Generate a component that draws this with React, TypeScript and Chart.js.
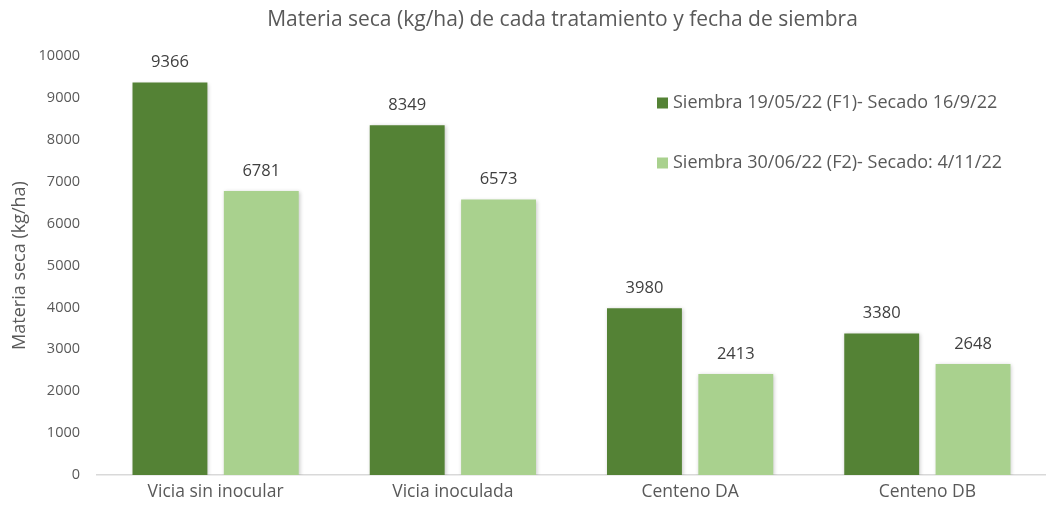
import React, { useEffect, useRef } from "react";
import { Chart, registerables } from "chart.js";

Chart.register(...registerables);

const categories = ["Vicia sin inocular", "Vicia inoculada", "Centeno DA", "Centeno DB"];
const seriesF1 = [9366, 8349, 3980, 3380];
const seriesF2 = [6781, 6573, 2413, 2648];
const seriesLabels = [
  "Siembra 19/05/22 (F1)- Secado 16/9/22",
  "Siembra 30/06/22 (F2)- Secado: 4/11/22",
];
const seriesColors = ["#548235", "#A9D18E"];
const yMin = 0;
const yMax = 10000;
const yStep = 1000;
const chartTitle = "Materia seca (kg/ha) de cada tratamiento y fecha de siembra";
const yAxisTitle = "Materia seca (kg/ha)";

const FONT = "'Open Sans', Lato, sans-serif";
const GREY = "#595959";

const titlePlugin = {
  id: "customTitle",
  afterDraw(chart: any) {
    const { ctx, chartArea } = chart;
    ctx.save();
    ctx.font = `21px ${FONT}`;
    ctx.fillStyle = GREY;
    ctx.textAlign = "center";
    ctx.textBaseline = "middle";
    ctx.fillText(chartTitle, (chartArea.left + chartArea.right) / 2 - 9, 20);
    ctx.restore();
  },
};

const shadowPlugin = {
  id: "barShadow",
  beforeDatasetsDraw(chart: any) {
    const ctx = chart.ctx;
    ctx.save();
    ctx.shadowColor = "rgba(0,0,0,0.22)";
    ctx.shadowBlur = 4;
    ctx.shadowOffsetX = 1;
    ctx.shadowOffsetY = 1;
  },
  afterDatasetsDraw(chart: any) {
    chart.ctx.restore();
  },
};

const valueLabelPlugin = {
  id: "valueLabels",
  afterDatasetsDraw(chart: any) {
    const { ctx } = chart;
    ctx.save();
    ctx.font = `16.5px ${FONT}`;
    ctx.fillStyle = "#404040";
    ctx.textAlign = "center";
    ctx.textBaseline = "middle";
    chart.data.datasets.forEach((ds: any, i: number) => {
      const meta = chart.getDatasetMeta(i);
      meta.data.forEach((bar: any, j: number) => {
        ctx.fillText(String(ds.data[j]), bar.x, bar.y - 20);
      });
    });
    ctx.restore();
  },
};

const legendPlugin = {
  id: "insideLegend",
  afterDraw(chart: any) {
    const { ctx, chartArea } = chart;
    ctx.save();
    ctx.font = `18px ${FONT}`;
    ctx.textAlign = "left";
    ctx.textBaseline = "middle";
    chart.data.datasets.forEach((ds: any, i: number) => {
      const x = chartArea.left + 560;
      const y = chartArea.top + 47 + i * 60;
      ctx.fillStyle = ds.backgroundColor;
      ctx.fillRect(x, y - 5.5, 11, 11);
      ctx.fillStyle = GREY;
      ctx.fillText(ds.label, x + 16, y);
    });
    ctx.restore();
  },
};

export default function App() {
  const ref = useRef<HTMLCanvasElement | null>(null);

  useEffect(() => {
    if (!ref.current) return;
    const chart = new Chart(ref.current, {
      type: "bar",
      data: {
        labels: categories,
        datasets: [
          { label: seriesLabels[0], data: seriesF1, backgroundColor: seriesColors[0] },
          { label: seriesLabels[1], data: seriesF2, backgroundColor: seriesColors[1] },
        ],
      },
      options: {
        animation: false,
        responsive: false,
        maintainAspectRatio: false,
        datasets: {
          bar: { categoryPercentage: 0.77, barPercentage: 0.82 },
        },
        layout: { padding: { top: 56, left: 0, right: 0, bottom: 0 } },
        plugins: {
          legend: { display: false },
          title: { display: false },
          tooltip: { enabled: false },
        },
        scales: {
          x: {
            grid: { display: false, drawTicks: false },
            border: { display: true, color: "#D9D9D9", width: 1.5 },
            ticks: {
              color: GREY,
              font: { family: FONT, size: 17.5 },
              padding: 7,
              maxRotation: 0,
            },
            afterFit(scale: any) {
              scale.height = 35;
            },
          },
          y: {
            min: yMin,
            max: yMax,
            grid: { display: false, drawTicks: false },
            border: { display: false },
            ticks: {
              stepSize: yStep,
              color: GREY,
              font: { family: FONT, size: 14.5 },
              padding: 17,
              callback: (v: any) => String(v),
            },
            title: {
              display: true,
              text: yAxisTitle,
              color: GREY,
              font: { family: FONT, size: 18 },
              padding: { top: 9, bottom: 0 },
            },
            afterFit(scale: any) {
              scale.width = 97;
            },
          },
        },
      },
      plugins: [shadowPlugin, valueLabelPlugin, legendPlugin, titlePlugin],
    });
    return () => chart.destroy();
  }, []);

  return (
    <div style={{ position: "fixed", left: 0, top: 0, width: 1046, height: 510, background: "#fff" }}>
      <canvas ref={ref} width={1046} height={510} style={{ display: "block" }} />
    </div>
  );
}
